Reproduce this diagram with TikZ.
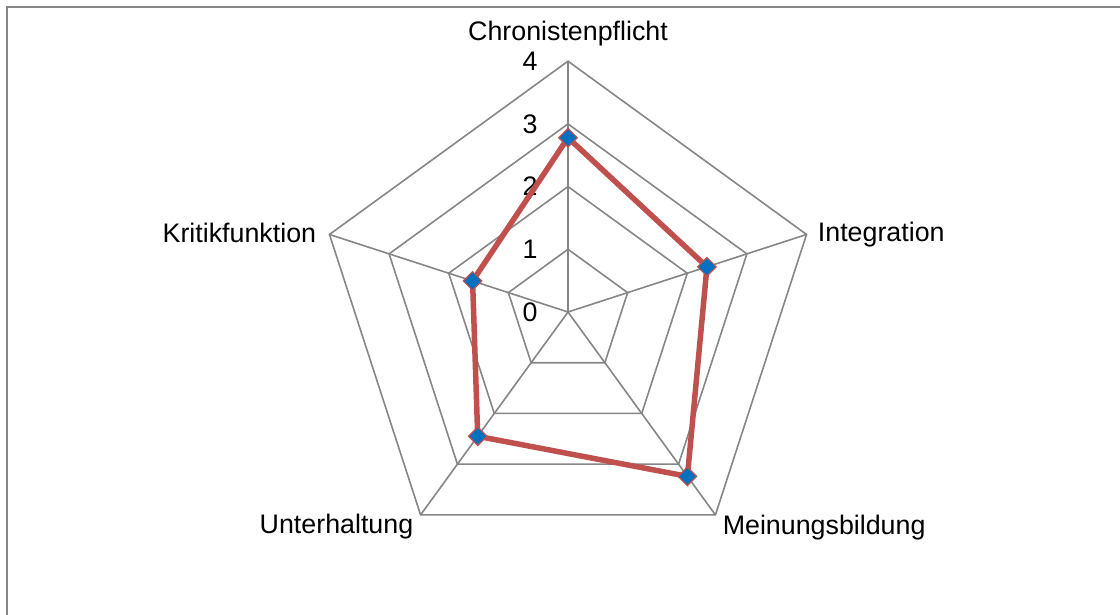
\documentclass[tikz,border=0pt]{standalone}
\usepackage{fontspec}
\setmainfont{Liberation Sans}
\usepackage{tikz}
\usetikzlibrary{shapes.geometric}
\definecolor{webgray}{RGB}{134,134,134}
\definecolor{seriesred}{RGB}{192,80,77}
\definecolor{markblue}{RGB}{0,112,192}
\tikzstyle{webline} = [draw=webgray, line width=0.8pt]
\tikzstyle{series} = [draw=seriesred, line width=2.75pt, line join=round]
\tikzstyle{datapoint} = [diamond, fill=markblue, draw=seriesred, line width=0.6pt, inner sep=0pt, minimum size=9.5pt]
\tikzstyle{axislabel} = [font=\fontsize{13.4}{16}\selectfont, inner sep=0pt]
\tikzstyle{ticklabel} = [font=\fontsize{13.4}{16}\selectfont, inner sep=0pt, anchor=east]
\def\unitr{62.7}

\begin{document}
\begin{tikzpicture}[x=0.5pt, y=0.5pt]

\useasboundingbox (0,0) rectangle (1120,615);
\draw [webgray, line width=1pt] (7,0) -- (7,607.5) -- (1120,607.5); % chart frame

\begin{scope}[shift={(568,303)}]
\coordinate (centre) at (0,0);
\coordinate (chron) at (90:4*\unitr);
\coordinate (integ) at (18:4*\unitr);
\coordinate (meinung) at (-54:4*\unitr);
\coordinate (unterh) at (-126:4*\unitr);
\coordinate (kritik) at (162:4*\unitr);

% rings
\foreach \k in {1,2,3,4}
  \draw [webline] (90:\k*\unitr) -- (18:\k*\unitr) -- (-54:\k*\unitr) -- (-126:\k*\unitr) -- (162:\k*\unitr) -- cycle;

% spokes
\draw [webline] (centre) -- (chron);
\draw [webline] (centre) -- (integ);
\draw [webline] (centre) -- (meinung);
\draw [webline] (centre) -- (unterh);
\draw [webline] (centre) -- (kritik);

% scale
\foreach \k in {0,1,2,3,4}
  \node (tick\k) [ticklabel] at (-30,\k*\unitr) {\k};

% axis names
\node (lchron) [axislabel, anchor=south, yshift=7.5pt] at (chron) {Chronistenpflicht};
\node (linteg) [axislabel, anchor=west, xshift=5.5pt, yshift=0pt] at (integ) {Integration};
\node (lmeinung) [axislabel, anchor=west, xshift=3.5pt, yshift=-6.5pt] at (meinung) {Meinungsbildung};
\node (lunterh) [axislabel, anchor=east, xshift=-3.5pt, yshift=-6pt] at (unterh) {Unterhaltung};
\node (lkritik) [axislabel, anchor=east, xshift=-6.5pt, yshift=1pt] at (kritik) {Kritikfunktion};

% data
\coordinate (d1) at (90:2.78*\unitr);
\coordinate (d2) at (18:2.33*\unitr);
\coordinate (d3) at (-54:3.24*\unitr);
\coordinate (d4) at (-126:2.45*\unitr);
\coordinate (d5) at (162:1.6*\unitr);
\draw [series] (d1) -- (d2) -- (d3) -- (d4) -- (d5) -- cycle;
\node (m1) [datapoint] at (d1) {};
\node (m2) [datapoint] at (d2) {};
\node (m3) [datapoint] at (d3) {};
\node (m4) [datapoint] at (d4) {};
\node (m5) [datapoint] at (d5) {};
\end{scope}

\end{tikzpicture}
\end{document}
